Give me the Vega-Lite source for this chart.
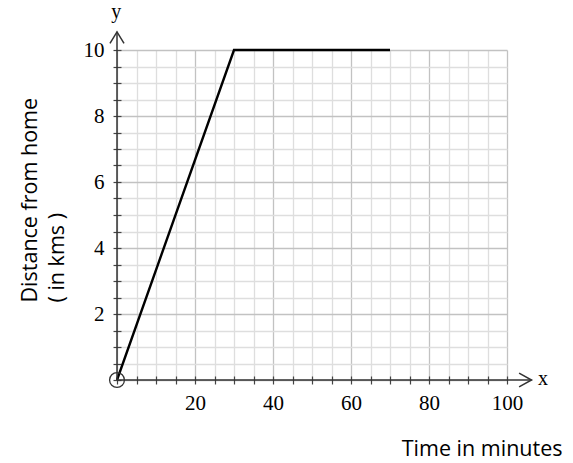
{
  "$schema": "https://vega.github.io/schema/vega-lite/v6.json",
  "width": 390,
  "height": 330,
  "autosize": "none",
  "padding": {"left": 117, "top": 50, "right": 66, "bottom": 83},
  "background": "white",
  "config": {"view": {"stroke": null}},
  "datasets": {
    "path": [
      {"x": 0, "y": 0},
      {"x": 30, "y": 10},
      {"x": 70, "y": 10}
    ],
    "axes": [
      {"g": "xaxis", "o": 1, "x": 0, "y": 0},
      {"g": "xaxis", "o": 2, "x": 106.3, "y": 0},
      {"g": "yaxis", "o": 1, "x": 0, "y": 0},
      {"g": "yaxis", "o": 2, "x": 0, "y": 10.55},
      {"g": "xarrow", "o": 1, "x": 103.1, "y": 0.21},
      {"g": "xarrow", "o": 2, "x": 106.3, "y": 0},
      {"g": "xarrow", "o": 3, "x": 103.1, "y": -0.21},
      {"g": "yarrow", "o": 1, "x": -1.8, "y": 10.2},
      {"g": "yarrow", "o": 2, "x": 0, "y": 10.55},
      {"g": "yarrow", "o": 3, "x": 1.8, "y": 10.2}
    ],
    "origin": [{"x": 0, "y": 0}],
    "letters": [
      {"x": 109.2, "y": -0.15, "t": "x"},
      {"x": -0.2, "y": 10.97, "t": "y"}
    ]
  },
  "layer": [
    {
      "data": {"name": "path"},
      "mark": {"type": "line", "color": "black", "strokeWidth": 2.4},
      "encoding": {
        "x": {
          "field": "x",
          "type": "quantitative",
          "scale": {"domain": [0, 100], "nice": false, "zero": false},
          "axis": {
            "title": "Time in minutes",
            "values": [0, 5, 10, 15, 20, 25, 30, 35, 40, 45, 50, 55, 60, 65, 70, 75, 80, 85, 90, 95, 100],
            "tickCount": 100,
            "grid": true,
            "gridColor": {"condition": {"test": "datum.value % 20 === 0", "value": "#c2c2c2"}, "value": "#dedede"},
            "gridWidth": 1.3,
            "domain": false,
            "offset": -4,
            "tickSize": 8,
            "tickColor": "#444444",
            "tickWidth": 1.2,
            "labelExpr": "datum.value % 20 === 0 && datum.value > 0 ? format(datum.value, 'd') : ''",
            "labelFont": "Liberation Serif",
            "labelFontSize": 21,
            "labelColor": "black",
            "labelPadding": 8,
            "labelFlush": false,
            "labelOverlap": false,
            "titleFont": "Open Sans",
            "titleFontSize": 21.5,
            "titleFontWeight": "normal",
            "titleColor": "black",
            "titleAnchor": "end",
            "titleAlign": "right",
            "titleX": 445,
            "titleY": 79,
            "titleBaseline": "alphabetic"
          }
        },
        "y": {
          "field": "y",
          "type": "quantitative",
          "scale": {"domain": [0, 10], "nice": false, "zero": false},
          "axis": {
            "title": ["Distance from home", "\u00a0\u00a0( in kms )"],
            "values": [0, 0.5, 1, 1.5, 2, 2.5, 3, 3.5, 4, 4.5, 5, 5.5, 6, 6.5, 7, 7.5, 8, 8.5, 9, 9.5, 10],
            "tickCount": 100,
            "grid": true,
            "gridColor": {"condition": {"test": "datum.value % 2 === 0", "value": "#c2c2c2"}, "value": "#dedede"},
            "gridWidth": 1.3,
            "domain": false,
            "offset": -4,
            "tickSize": 8,
            "tickColor": "#444444",
            "tickWidth": 1.2,
            "labelExpr": "datum.value % 2 === 0 && datum.value > 0 ? format(datum.value, 'd') : ''",
            "labelFont": "Liberation Serif",
            "labelFontSize": 21,
            "labelColor": "black",
            "labelPadding": 9,
            "labelFlush": false,
            "labelOverlap": false,
            "titleFont": "Open Sans",
            "titleFontSize": 21.5,
            "titleFontWeight": "normal",
            "titleColor": "black",
            "titleAngle": -90,
            "titleAlign": "left",
            "titleBaseline": "middle",
            "titleLineHeight": 27,
            "titleX": -91,
            "titleY": 252
          }
        }
      }
    },
    {
      "data": {"name": "axes"},
      "mark": {"type": "line", "color": "#333333", "strokeWidth": 1.5, "clip": false},
      "encoding": {
        "x": {"field": "x", "type": "quantitative"},
        "y": {"field": "y", "type": "quantitative"},
        "detail": {"field": "g"},
        "order": {"field": "o"}
      }
    },
    {
      "data": {"name": "origin"},
      "mark": {"type": "point", "shape": "circle", "filled": false, "size": 220, "color": "#333333", "strokeWidth": 1.3, "opacity": 1},
      "encoding": {
        "x": {"field": "x", "type": "quantitative"},
        "y": {"field": "y", "type": "quantitative"}
      }
    },
    {
      "data": {"name": "letters"},
      "mark": {"type": "text", "font": "Liberation Serif", "fontSize": 20, "color": "black", "align": "center", "baseline": "alphabetic", "clip": false},
      "encoding": {
        "x": {"field": "x", "type": "quantitative"},
        "y": {"field": "y", "type": "quantitative"},
        "text": {"field": "t"}
      }
    }
  ]
}
